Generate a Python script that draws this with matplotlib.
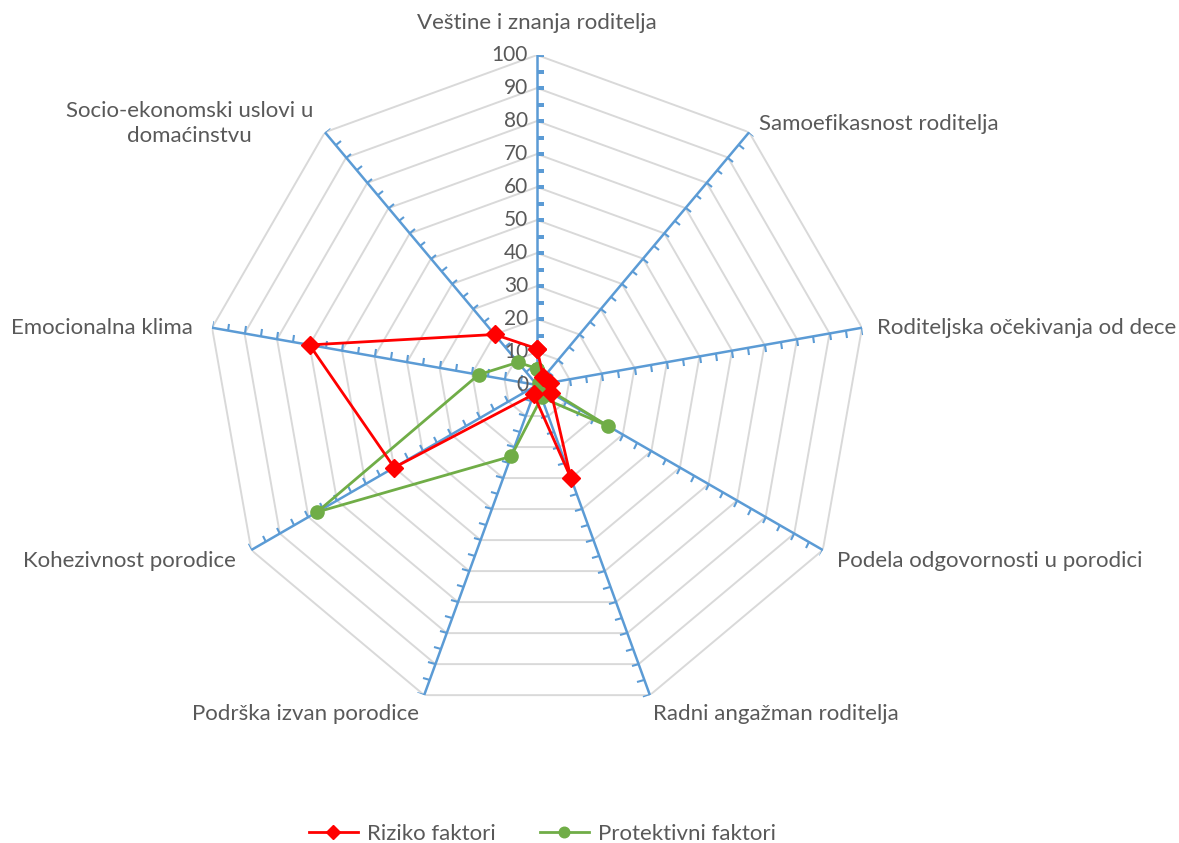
import numpy as np
import matplotlib.pyplot as plt
from matplotlib.markers import MarkerStyle, TICKRIGHT
from matplotlib.transforms import Affine2D, offset_copy

plt.rcParams['font.family'] = ['Lato', 'DejaVu Sans']

categories = ['Veštine i znanja roditelja', 'Samoefikasnost roditelja',
              'Roditeljska očekivanja od dece', 'Podela odgovornosti u porodici',
              'Radni angažman roditelja', 'Podrška izvan porodice',
              'Kohezivnost porodice', 'Emocionalna klima',
              'Socio-ekonomski uslovi u\ndomaćinstvu']
riziko = [11, 3, 4, 5, 30, 3, 50, 70, 20]
protektivni = [5, 1, 1, 25, 4, 23, 77, 18, 9]
r_ticks = list(range(0, 101, 10))

text_col = '#595959'
grid_col = '#d9d9d9'
axis_col = '#5b9bd5'

fig = plt.figure(figsize=(11.79, 8.43), dpi=100)
ax = fig.add_axes([0.1756, 0.1518, 0.5598, 0.7829], projection='polar')
ax.set_theta_zero_location('N')
ax.set_theta_direction(-1)
ax.set_ylim(0, 100)
ax.set_xticks([])
ax.set_yticks([])
ax.grid(False)
ax.spines['polar'].set_visible(False)
ax.patch.set_visible(False)

n = len(categories)
angles = np.arange(n) * 2 * np.pi / n
closed = np.append(angles, angles[0])

# mreza (poligoni)
for r in r_ticks[1:]:
    ax.plot(closed, [r] * (n + 1), color=grid_col, lw=1.4, zorder=1)

# ose sa podeocima
for a in angles:
    ax.plot([a, a], [0, 100], color=axis_col, lw=1.8, zorder=2)
    m = MarkerStyle(TICKRIGHT, transform=Affine2D().rotate_deg(-np.degrees(a)))
    ax.plot([a] * 20, np.arange(5, 101, 5), ls='none', marker=m, ms=5,
            mew=1.5, color=axis_col, zorder=2)

# vrednosti na vertikalnoj osi
lab_tr = offset_copy(ax.transData, fig, x=-9, y=0, units='dots')
for v in r_ticks:
    ax.text(0, v, str(v), transform=lab_tr, ha='right', va='center',
            fontsize=15, color=text_col)

# nazivi kategorija
offsets = [(0, 22, 'center', 'bottom'), (10, 8, 'left', 'center'),
           (15, 0, 'left', 'center'), (14, -11, 'left', 'center'),
           (3, -19, 'left', 'center'), (-5, -19, 'right', 'center'),
           (-15, -11, 'right', 'center'), (-19, 0, 'right', 'center'),
           (-12, 9, 'right', 'center')]
for a, lab, (dx, dy, ha, va) in zip(angles, categories, offsets):
    tr = offset_copy(ax.transData, fig, x=dx, y=dy, units='dots')
    ax.text(a, 100, lab, transform=tr, ha=ha, va=va, multialignment='center',
            fontsize=16, color=text_col, linespacing=1.3)

ax.plot(closed, riziko + riziko[:1], color='#ff0000', lw=2, marker='D',
        ms=9.5, zorder=4, label='Riziko faktori')
ax.plot(closed, protektivni + protektivni[:1], color='#70ad47', lw=2,
        marker='o', ms=9.5, zorder=3, label='Protektivni faktori')

leg = fig.legend(loc='center', bbox_to_anchor=(0.46, 0.011), ncol=2,
                 frameon=False, fontsize=16, handlelength=2.2,
                 handletextpad=0.4, columnspacing=2, markerscale=0.8)
for t in leg.get_texts():
    t.set_color(text_col)

fig.savefig('out.png', dpi=100)
